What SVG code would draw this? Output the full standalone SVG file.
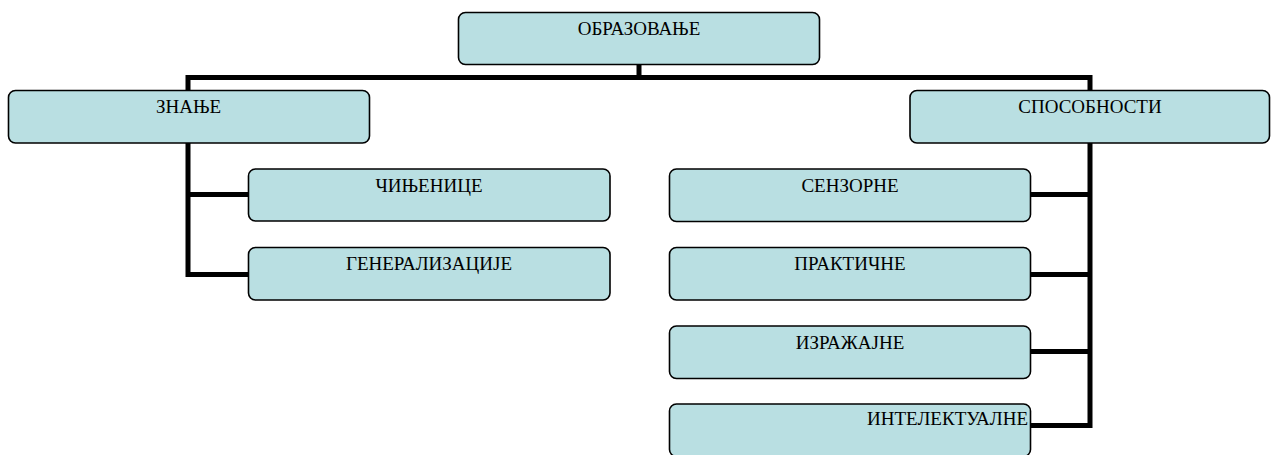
<svg xmlns="http://www.w3.org/2000/svg" width="1271" height="455" viewBox="0 0 1271 455">
<style>
.box{fill:#B9DFE2;stroke:#000;stroke-width:1.6}
.lbl{font-family:"Liberation Serif","Times New Roman",serif;font-size:19px;fill:#000;text-anchor:middle}
.con{fill:none;stroke:#000;stroke-width:5;stroke-linejoin:miter}
</style>
<rect width="1271" height="455" fill="#fff"/>
<g id="connectors">
<path class="con" d="M248 274.5 H188 V77.5 H1090 V425.5 H1030"/>
<path class="con" d="M639 64 V77.5"/>
<path class="con" d="M188 194.5 H248"/>
<path class="con" d="M1090 194.5 H1030"/>
<path class="con" d="M1090 274.5 H1030"/>
<path class="con" d="M1090 351.5 H1030"/>
</g>
<g id="n-obrazovanje"><rect class="box" x="458.5" y="12.5" width="361" height="52" rx="7"/><text class="lbl" x="639" y="34.5">ОБРАЗОВАЊЕ</text></g>
<g id="n-znanje"><rect class="box" x="8.5" y="90.5" width="361" height="52.5" rx="7"/><text class="lbl" x="188.5" y="113">ЗНАЊЕ</text></g>
<g id="n-sposobnosti"><rect class="box" x="910" y="90.5" width="359.5" height="52.5" rx="7"/><text class="lbl" x="1090" y="113">СПОСОБНОСТИ</text></g>
<g id="n-cinjenice"><rect class="box" x="248.5" y="169" width="361.5" height="52" rx="7"/><text class="lbl" x="429" y="191.5">ЧИЊЕНИЦЕ</text></g>
<g id="n-generalizacije"><rect class="box" x="248.5" y="247.5" width="361.5" height="52.5" rx="7"/><text class="lbl" x="429" y="270">ГЕНЕРАЛИЗАЦИЈЕ</text></g>
<g id="n-senzorne"><rect class="box" x="669.5" y="169" width="361" height="52.5" rx="7"/><text class="lbl" x="850" y="191.5">СЕНЗОРНЕ</text></g>
<g id="n-prakticne"><rect class="box" x="669.5" y="247.5" width="361" height="52.5" rx="7"/><text class="lbl" x="850" y="270">ПРАКТИЧНЕ</text></g>
<g id="n-izrazajne"><rect class="box" x="669.5" y="326" width="361" height="52.5" rx="7"/><text class="lbl" x="850" y="348.5">ИЗРАЖАЈНЕ</text></g>
<g id="n-intelektualne"><rect class="box" x="669.5" y="404" width="361" height="52.5" rx="7"/><text class="lbl" x="1028" y="425" style="text-anchor:end">ИНТЕЛЕКТУАЛНЕ</text></g>
</svg>
